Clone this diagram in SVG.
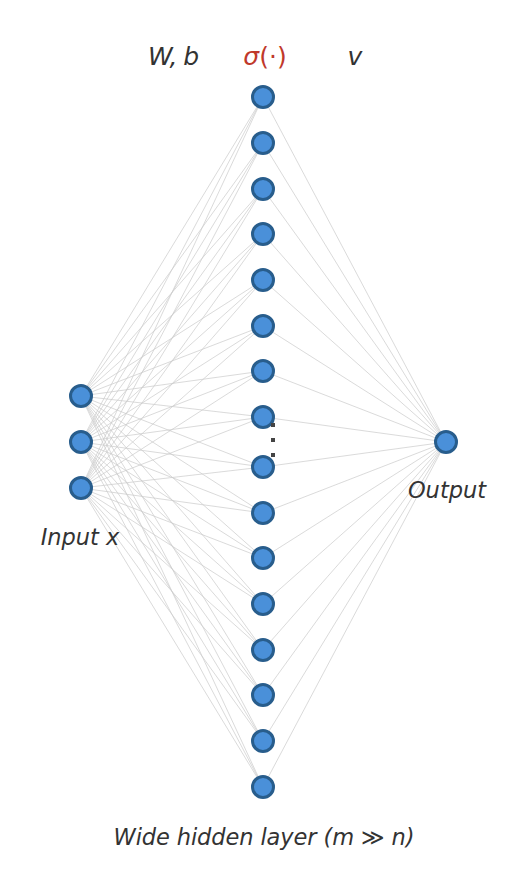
<svg xmlns="http://www.w3.org/2000/svg" width="528" height="885" viewBox="0 0 528 885">
<style>
.n{fill:#4a90d9;stroke:#285d8c;stroke-width:3}
.e{stroke:#cccccc;stroke-width:0.8;fill:none;opacity:0.9}
.t{font-family:"DejaVu Sans",sans-serif;font-style:italic;fill:#333333;text-anchor:middle}
.u{font-style:normal}
.d{fill:#444444}
</style>
<rect width="528" height="885" fill="#ffffff"/>
<g id="connectors">
<path class="e" d="M81,396L263,97M81,396L263,143M81,396L263,189M81,396L263,234M81,396L263,280M81,396L263,326M81,396L263,371M81,396L263,417M81,396L263,467M81,396L263,513M81,396L263,558M81,396L263,604M81,396L263,650M81,396L263,695M81,396L263,741M81,396L263,787"/>
<path class="e" d="M81,442L263,97M81,442L263,143M81,442L263,189M81,442L263,234M81,442L263,280M81,442L263,326M81,442L263,371M81,442L263,417M81,442L263,467M81,442L263,513M81,442L263,558M81,442L263,604M81,442L263,650M81,442L263,695M81,442L263,741M81,442L263,787"/>
<path class="e" d="M81,488L263,97M81,488L263,143M81,488L263,189M81,488L263,234M81,488L263,280M81,488L263,326M81,488L263,371M81,488L263,417M81,488L263,467M81,488L263,513M81,488L263,558M81,488L263,604M81,488L263,650M81,488L263,695M81,488L263,741M81,488L263,787"/>
<path class="e" d="M263,97L446,442M263,143L446,442M263,189L446,442M263,234L446,442M263,280L446,442M263,326L446,442M263,371L446,442M263,417L446,442M263,467L446,442M263,513L446,442M263,558L446,442M263,604L446,442M263,650L446,442M263,695L446,442M263,741L446,442M263,787L446,442"/>
</g>
<g id="input">
<circle class="n" cx="81" cy="396" r="10.5"/>
<circle class="n" cx="81" cy="442" r="10.5"/>
<circle class="n" cx="81" cy="488" r="10.5"/>
</g>
<g id="hidden">
<circle class="n" cx="263" cy="97" r="10.5"/>
<circle class="n" cx="263" cy="143" r="10.5"/>
<circle class="n" cx="263" cy="189" r="10.5"/>
<circle class="n" cx="263" cy="234" r="10.5"/>
<circle class="n" cx="263" cy="280" r="10.5"/>
<circle class="n" cx="263" cy="326" r="10.5"/>
<circle class="n" cx="263" cy="371" r="10.5"/>
<circle class="n" cx="263" cy="417" r="10.5"/>
<circle class="n" cx="263" cy="467" r="10.5"/>
<circle class="n" cx="263" cy="513" r="10.5"/>
<circle class="n" cx="263" cy="558" r="10.5"/>
<circle class="n" cx="263" cy="604" r="10.5"/>
<circle class="n" cx="263" cy="650" r="10.5"/>
<circle class="n" cx="263" cy="695" r="10.5"/>
<circle class="n" cx="263" cy="741" r="10.5"/>
<circle class="n" cx="263" cy="787" r="10.5"/>
</g>
<g id="ellipsis">
<rect class="d" x="271" y="423" width="4" height="4"/>
<rect class="d" x="271" y="438" width="4" height="4"/>
<rect class="d" x="271" y="453" width="4" height="4"/>
</g>
<g id="output">
<circle class="n" cx="446" cy="442" r="10.5"/>
</g>
<g id="labels">
<text class="t" x="173.5" y="65" font-size="25" textLength="51">W, b</text>
<text class="t" x="265" y="65" font-size="25" style="fill:#c0392b">σ<tspan class="u">(·)</tspan></text>
<text class="t" x="355" y="65" font-size="25">v</text>
<text class="t" x="80" y="545" font-size="22.5">Input x</text>
<text class="t" x="447" y="498" font-size="22.5">Output</text>
<text class="t" x="264" y="845" font-size="22.5" textLength="301">Wide hidden layer (m ≫ n)</text>
</g>
</svg>
